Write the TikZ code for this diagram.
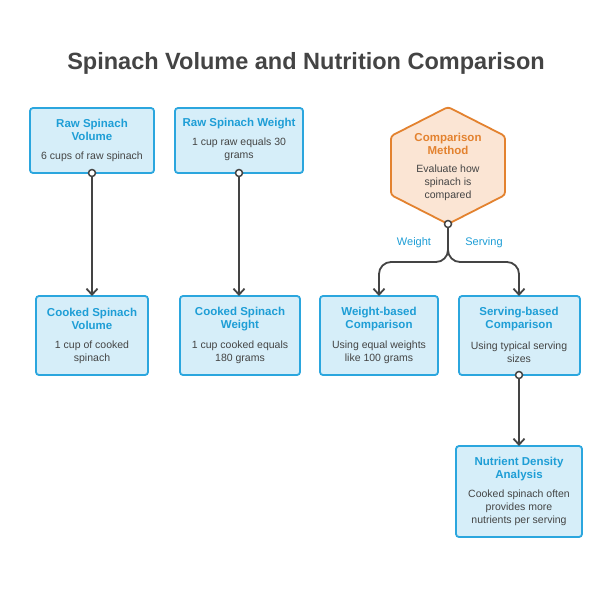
\documentclass[tikz,border=0pt]{standalone}
\usepackage{fontspec}
\setmainfont{Liberation Sans}
\usetikzlibrary{arrows.meta}
\definecolor{bfill}{HTML}{D6EEF9}
\definecolor{bdraw}{HTML}{2BA6DE}
\definecolor{btxt}{HTML}{1E9ED6}
\definecolor{ofill}{HTML}{FBE5D4}
\definecolor{odraw}{HTML}{E3822F}
\definecolor{gtxt}{HTML}{444444}
\definecolor{lnc}{HTML}{444444}
\tikzset{
 box/.style={draw=bdraw,fill=bfill,line width=1.8pt,rounded corners=3pt},
 hd/.style={text=btxt,font=\bfseries\fontsize{11.5}{13.5}\selectfont,align=center},
 bd/.style={text=gtxt,font=\fontsize{10.5}{13}\selectfont,align=center},
 conn/.style={draw=lnc,line width=1.8pt,-{Straight Barb[length=6pt,width=11pt]}},
 dot/.style={circle,draw=lnc,fill=white,line width=1.5pt,inner sep=0pt,minimum size=7pt},
 lbl/.style={text=btxt,font=\fontsize{11}{13}\selectfont}
}
\begin{document}
\begin{tikzpicture}[x=1pt,y=-1pt]
\useasboundingbox[fill=white] (0,0) rectangle (613,592);
\node[text=gtxt,font=\bfseries\fontsize{23.5}{28}\selectfont] (title) at (306,63) {Spinach Volume and Nutrition Comparison};
% boxes
\draw[box] (30,108) rectangle (154,173);
\node[hd] (h1) at (92,130) {Raw Spinach\\Volume};
\node[bd] (b1) at (92,157) {6 cups of raw spinach};
\draw[box] (175,108) rectangle (303,173);
\node[hd] (h2) at (239,124) {Raw Spinach Weight};
\node[bd] (b2) at (239,149) {1 cup raw equals 30\\grams};
\draw[box] (36,296) rectangle (148,375);
\node[hd] (h3) at (92,319) {Cooked Spinach\\Volume};
\node[bd] (b3) at (92,352) {1 cup of cooked\\spinach};
\draw[box] (180,296) rectangle (300,375);
\node[hd] (h4) at (240,319) {Cooked Spinach\\Weight};
\node[bd] (b4) at (240,352) {1 cup cooked equals\\180 grams};
\draw[box] (320,296) rectangle (438,375);
\node[hd] (h5) at (379,319) {Weight-based\\Comparison};
\node[bd] (b5) at (379,352) {Using equal weights\\like 100 grams};
\draw[box] (459,296) rectangle (580,375);
\node[hd] (h6) at (519,319) {Serving-based\\Comparison};
\node[bd] (b6) at (519,352) {Using typical serving\\sizes};
\draw[box] (456,446) rectangle (582,537);
\node[hd] (h7) at (519,469) {Nutrient Density\\Analysis};
\node[bd] (b7) at (519,508) {Cooked spinach often\\provides more\\nutrients per serving};
% hexagon
\draw[draw=odraw,fill=ofill,line width=1.8pt,rounded corners=3pt] (448,107) -- (505,136) -- (505,195) -- (448,224) -- (391,195) -- (391,136) -- cycle;
\node[text=odraw,font=\bfseries\fontsize{11.5}{13.5}\selectfont,align=center] (h8) at (448,144) {Comparison\\Method};
\node[bd] (b8) at (448,183) {Evaluate how\\spinach is\\compared};
% anchors
\coordinate (s1) at (92,173); \coordinate (e1) at (92,296);
\coordinate (s2) at (239,173); \coordinate (e2) at (239,296);
\coordinate (s3) at (448,224);
\coordinate (e5) at (379,296); \coordinate (e6) at (519,296);
\coordinate (s6) at (519,375); \coordinate (e7) at (519,446);
\draw[conn] (s1) -- (e1);
\draw[conn] (s2) -- (e2);
\draw[conn,rounded corners=12pt] (s3) -- (448,262) -- (379,262) -- (e5);
\draw[conn,rounded corners=12pt] (s3) -- (448,262) -- (519,262) -- (e6);
\draw[conn] (s6) -- (e7);
\node[dot] at (s1) {}; \node[dot] at (s2) {}; \node[dot] at (s3) {}; \node[dot] at (s6) {};
\node[lbl] (l1) at (414,243) {Weight};
\node[lbl] (l2) at (484,243) {Serving};
\end{tikzpicture}
\end{document}
